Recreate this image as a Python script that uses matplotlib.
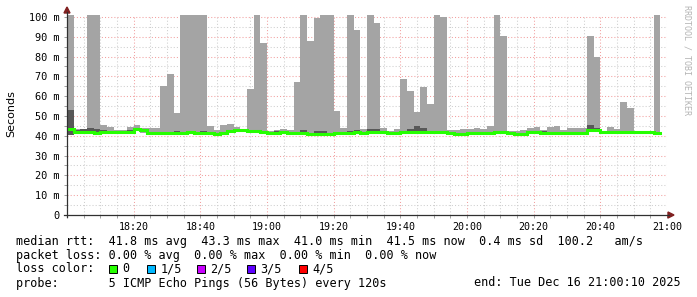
import matplotlib
matplotlib.use("Agg")
import matplotlib.pyplot as plt
import numpy as np
from matplotlib.patches import Rectangle, Polygon
from matplotlib.lines import Line2D

# ---------------- data (ms) ----------------
step_min = 2  # 120 s probe step
median = [43.3, 42.0, 42.0, 41.8, 41.5, 41.8, 42.0, 41.9, 42.0, 42.0,
          43.2, 42.8, 41.6, 41.5, 41.3, 41.3, 41.3, 41.6, 41.7, 41.6,
          41.3, 41.3, 41.0, 41.3, 42.5, 42.8, 42.8, 42.3, 42.5, 41.8,
          41.6, 41.5, 41.9, 41.5, 41.5, 41.5, 41.1, 41.1, 41.0, 41.0,
          41.5, 41.5, 41.6, 41.8, 41.5, 41.8, 41.8, 41.8, 41.5, 41.4,
          41.7, 41.7, 41.8, 41.7, 41.7, 41.7, 41.7, 41.3, 41.0, 41.1,
          41.5, 41.5, 41.5, 41.5, 41.9, 41.9, 41.3, 41.1, 41.1, 41.7,
          41.7, 41.6, 41.5, 41.5, 41.5, 41.5, 41.5, 41.5, 42.7, 42.7,
          42.0, 42.0, 42.0, 42.0, 42.0, 42.0, 42.0, 42.0, 41.5]
ping_max = [101, 43.3, 43.5, 101, 101, 45.5, 44.4, 43.0, 43.0, 44.4,
            45.5, 44.0, 44.0, 44.0, 65.2, 71.2, 51.4, 101, 101, 101,
            101, 45.0, 43.0, 45.5, 46.0, 44.4, 43.0, 63.6, 101, 87.0,
            42.5, 43.0, 43.5, 43.0, 67.2, 101, 87.9, 99.3, 101, 101,
            52.5, 44.0, 101, 93.4, 43.5, 101, 96.8, 43.8, 42.5, 43.5,
            68.7, 62.8, 52.0, 64.6, 56.0, 101, 100.2, 43.0, 43.0, 43.3,
            43.5, 44.0, 43.5, 45.0, 101, 90.4, 42.3, 42.3, 42.7, 44.0,
            44.5, 43.0, 44.2, 45.0, 43.0, 44.0, 44.0, 44.0, 90.4, 79.6,
            42.3, 44.5, 43.5, 57.0, 54.2, 42.3, 42.3, 42.3, 101]
ping_p4 = [53.0, 42.8, 43.2, 44.0, 43.5, 42.8, 42.5, 42.3, 42.4, 42.8,
           43.6, 43.2, 42.0, 41.9, 41.8, 41.8, 42.4, 42.0, 42.1, 42.0,
           42.2, 42.0, 41.5, 41.8, 42.9, 43.2, 43.3, 42.8, 43.0, 42.2,
           42.0, 42.6, 42.3, 41.9, 42.0, 43.0, 41.5, 42.3, 42.4, 41.6,
           42.0, 41.9, 42.6, 42.7, 41.9, 43.5, 43.3, 42.2, 41.9, 41.8,
           42.2, 43.5, 45.0, 43.8, 42.3, 42.2, 42.2, 41.7, 41.4, 41.5,
           41.9, 41.9, 42.0, 42.0, 42.3, 42.3, 41.7, 41.5, 41.5, 42.1,
           42.4, 42.6, 41.9, 41.9, 41.9, 41.9, 41.9, 41.9, 45.5, 44.0,
           42.2, 42.3, 42.3, 42.3, 42.3, 42.2, 42.2, 42.2, 41.9]
ping_p2 = [40.6, 41.7, 41.7, 41.5, 41.2, 41.5, 41.7, 41.6, 41.7, 41.7,
           42.9, 41.9, 41.3, 41.2, 41.0, 41.0, 41.0, 41.3, 41.4, 41.3,
           41.0, 41.0, 40.6, 41.0, 42.2, 42.5, 42.5, 42.0, 42.2, 41.5,
           41.3, 41.2, 41.3, 41.2, 41.2, 41.2, 40.7, 40.8, 40.7, 40.7,
           41.2, 40.9, 41.3, 41.5, 41.1, 41.5, 41.5, 41.1, 41.0, 40.9,
           41.4, 41.4, 41.5, 41.4, 41.4, 41.4, 41.4, 40.8, 40.7, 40.8,
           41.2, 41.2, 41.0, 41.2, 41.6, 41.6, 41.0, 40.8, 40.8, 41.4,
           41.4, 41.3, 41.2, 41.2, 41.2, 40.9, 41.2, 41.2, 42.4, 42.4,
           41.7, 41.7, 41.7, 41.7, 41.7, 41.3, 41.3, 41.3, 41.2]
ping_min = [40.3, 41.3, 41.3, 41.1, 40.9, 41.1, 41.3, 41.2, 41.3, 41.3,
            42.5, 41.5, 40.9, 40.8, 40.6, 40.6, 40.6, 40.9, 41.0, 40.9,
            40.6, 40.6, 40.3, 40.6, 41.8, 42.1, 42.1, 41.6, 41.8, 41.1,
            40.9, 40.8, 40.9, 40.8, 40.8, 40.8, 40.4, 40.4, 40.3, 40.3,
            40.8, 40.6, 40.9, 41.1, 40.8, 41.1, 41.1, 40.8, 40.7, 40.6,
            41.0, 41.0, 41.1, 41.0, 41.0, 41.0, 41.0, 40.5, 40.3, 40.4,
            40.8, 40.8, 40.7, 40.8, 41.2, 41.2, 40.6, 40.4, 40.4, 41.0,
            41.0, 40.9, 40.8, 40.8, 40.8, 40.6, 40.8, 40.8, 42.0, 42.0,
            41.3, 41.3, 41.3, 41.3, 41.3, 40.9, 40.9, 40.9, 40.8]

x_tick_minutes = [20, 40, 60, 80, 100, 120, 140, 160, 180]
x_tick_labels = ["18:20", "18:40", "19:00", "19:20", "19:40", "20:00", "20:20", "20:40", "21:00"]
y_ticks = [0, 10, 20, 30, 40, 50, 60, 70, 80, 90, 100]

loss_labels = ["0", "1/5", "2/5", "3/5", "4/5"]
loss_colors = ["#26ff00", "#00b8ff", "#c800ff", "#5e00ff", "#ff0000"]

line_rtt = "median rtt:  41.8 ms avg  43.3 ms max  41.0 ms min  41.5 ms now  0.4 ms sd  100.2   am/s"
line_loss = "packet loss: 0.00 % avg  0.00 % max  0.00 % min  0.00 % now"
line_probe = "probe:       5 ICMP Echo Pings (56 Bytes) every 120s"
line_end = "end: Tue Dec 16 21:00:10 2025"

# ---------------- figure ----------------
W, H = 697, 297
fig = plt.figure(figsize=(W / 100, H / 100), dpi=100)
fig.patch.set_facecolor("white")

def fx(x):
    return x / W

def fy(y):
    return 1 - y / H

ax = fig.add_axes([fx(67), fy(215), 600 / W, 200 / H])
ax.set_xlim(0, 180)
ax.set_ylim(0, 101)
for s in ax.spines.values():
    s.set_visible(False)

n = len(median)
edges = np.arange(n + 1) * step_min

def ext(a):
    a = np.asarray(a, float)
    return np.append(a, a[-1])

ax.fill_between(edges, ext(ping_min), ext(ping_max), step="post",
                color="#a4a4a4", lw=0, zorder=2)
ax.fill_between(edges, ext(ping_p2), ext(ping_p4), step="post",
                color="#585858", lw=0, zorder=3)
ax.step(edges, ext(median), where="post", color="#26ff00", lw=2.2,
        solid_joinstyle="miter", zorder=4)

# grid (under the smoke)
minor_c = "#cfcfcf"
major_c = "#f2a0a0"
dash = (0, (1, 2))
for m in np.arange(5, 181, 5):
    is_major = m in x_tick_minutes
    ax.axvline(m, color=major_c if is_major else minor_c, lw=0.75,
               linestyle=dash, zorder=1)
for v in np.arange(5, 101, 5):
    is_major = v in y_ticks
    ax.axhline(v, color=major_c if is_major else minor_c, lw=0.75,
               linestyle=dash, zorder=1)

ax.set_xticks(x_tick_minutes)
ax.set_xticklabels(x_tick_labels, family="DejaVu Sans Mono", fontsize=7.2)
ax.set_xticks(np.arange(0, 181, 5), minor=True)
ax.set_yticks(y_ticks)
ax.set_yticklabels([("0" if v == 0 else f"{v} m") for v in y_ticks],
                   family="DejaVu Sans Mono", fontsize=7.4)
ax.set_yticks(np.arange(0, 101, 5), minor=True)
ax.tick_params(axis="both", which="both", length=2, width=0.7, color="#a0a0a0")
ax.tick_params(axis="y", which="major", pad=3.5)
ax.tick_params(axis="x", which="major", pad=3)

# axes with arrows
fig.add_artist(Line2D([fx(67), fx(67)], [fy(217), fy(12)], color="#303030",
                      lw=0.9, transform=fig.transFigure))
fig.add_artist(Line2D([fx(64), fx(669)], [fy(215), fy(215)], color="#303030",
                      lw=0.9, transform=fig.transFigure))
fig.add_artist(Polygon([(fx(64), fy(13)), (fx(70), fy(13)), (fx(67), fy(7))],
                       closed=True, color="#802020", transform=fig.transFigure))
fig.add_artist(Polygon([(fx(668), fy(212)), (fx(668), fy(218)), (fx(674), fy(215))],
                       closed=True, color="#802020", transform=fig.transFigure))

# labels
fig.text(fx(11), fy(114), "Seconds", rotation=90, ha="center", va="center",
         fontsize=8, family="DejaVu Sans")
fig.text(fx(687), fy(60), "RRDTOOL / TOBI OETIKER", rotation=270, ha="center",
         va="center", fontsize=6, family="DejaVu Sans Mono", color="#b4b4b4")

mono = dict(family="DejaVu Sans Mono", fontsize=8.5, va="center", ha="left")
fig.text(fx(16), fy(241), line_rtt, **mono)
fig.text(fx(16), fy(255), line_loss, **mono)
fig.text(fx(16), fy(269), "loss color:", **mono)
fig.text(fx(16), fy(283), line_probe, **mono)
fig.text(fx(681), fy(283), line_end, family="DejaVu Sans Mono", fontsize=8.5,
         va="center", ha="right")

box_x = [108.5, 147, 197, 247, 299]
for bx, lab, col in zip(box_x, loss_labels, loss_colors):
    fig.add_artist(Rectangle((fx(bx), fy(273)), 8 / W, 8 / H, facecolor=col,
                             edgecolor="black", lw=0.7, transform=fig.transFigure))
    fig.text(fx(bx + 13.5), fy(269), lab, **mono)

fig.savefig("out.png", dpi=100, facecolor="white")
